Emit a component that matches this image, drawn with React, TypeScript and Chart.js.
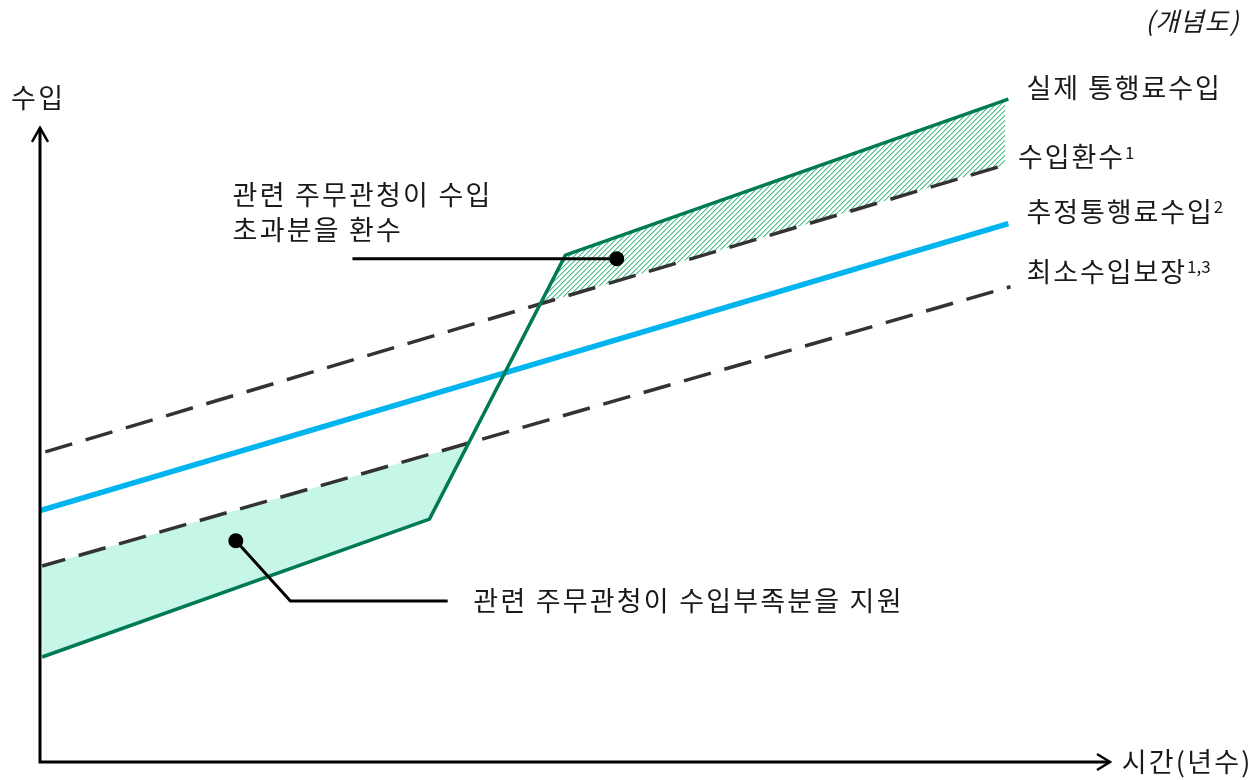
import React, { useEffect, useRef } from "react";
import { Chart, registerables } from "chart.js";

Chart.register(...registerables);

// ---- data (conceptual units: x = time, y = revenue) ----
const actualX = [0.2, 36.4, 49.1, 90.5];
const actualY = [15.0, 34.7, 72.4, 94.7];
const clawbackX = [0.5, 90.2];
const clawbackY = [44.3, 85.3];
const estimatedX = [0, 90.5];
const estimatedY = [35.9, 76.9];
const minimumX = [0.2, 90.7];
const minimumY = [28.0, 67.9];

const seriesLabels = ["실제 통행료수입", "수입환수", "추정통행료수입", "최소수입보장"];
const seriesSup = ["", "1", "2", "1,3"];
const upperNote = ["관련 주무관청이 수입", "초과분을 환수"];
const lowerNote = "관련 주무관청이 수입부족분을 지원";
const xAxisLabel = "시간(년수)";
const yAxisLabel = "수입";
const titleNote = "(개념도)";

const FONT = '"Noto Sans CJK KR", "Noto Sans", sans-serif';
const GREEN = "#007a55";
const TEAL = "#c6f6e7";
const BLUE = "#00b4f0";
const DASH = "#333333";
const TEXT = "#1a1a1a";

const pts = (xs: number[], ys: number[]) => xs.map((x, i) => ({ x, y: ys[i] }));

function makeHatch(): CanvasPattern | string {
  const n = 5;
  const c = document.createElement("canvas");
  c.width = n;
  c.height = n;
  const g = c.getContext("2d");
  if (!g) return "rgba(60,170,120,0.4)";
  g.fillStyle = "#ffffff";
  g.fillRect(0, 0, n, n);
  for (let r = 0; r < n; r++) {
    g.fillStyle = "#4dbf8c";
    g.fillRect((n - 1 - r + n) % n, r, 1, 1);
    g.fillStyle = "#a6dfc4";
    g.fillRect((n - r + n) % n, r, 1, 1);
  }
  const p = g.createPattern(c, "repeat");
  return p || "rgba(60,170,120,0.4)";
}

const decorPlugin = {
  id: "decor",
  afterDraw(chart: any) {
    const { ctx } = chart;
    const xs = chart.scales.x;
    const ys = chart.scales.y;
    const px = (v: number) => xs.getPixelForValue(v);
    const py = (v: number) => ys.getPixelForValue(v);
    ctx.save();

    // axes
    ctx.strokeStyle = "#000";
    ctx.lineWidth = 3;
    ctx.lineCap = "butt";
    ctx.beginPath();
    ctx.moveTo(px(0), py(90.6));
    ctx.lineTo(px(0), py(0));
    ctx.lineTo(px(100), py(0));
    ctx.stroke();
    ctx.lineWidth = 2.5;
    ctx.lineJoin = "miter";
    ctx.beginPath();
    ctx.moveTo(px(0) - 8, py(90.6) + 14);
    ctx.lineTo(px(0), py(90.6));
    ctx.lineTo(px(0) + 8, py(90.6) + 14);
    ctx.stroke();
    ctx.beginPath();
    ctx.moveTo(px(100) - 13, py(0) - 8);
    ctx.lineTo(px(100), py(0));
    ctx.lineTo(px(100) - 13, py(0) + 8);
    ctx.stroke();

    // callouts
    ctx.strokeStyle = "#000";
    ctx.fillStyle = "#000";
    ctx.lineWidth = 3;
    ctx.beginPath();
    ctx.moveTo(px(29.2), py(71.9));
    ctx.lineTo(px(53.9), py(71.9));
    ctx.stroke();
    ctx.beginPath();
    ctx.arc(px(53.9), py(71.9), 7.5, 0, Math.PI * 2);
    ctx.fill();
    ctx.beginPath();
    ctx.moveTo(px(18.3), py(31.6));
    ctx.lineTo(px(23.4), py(23.0));
    ctx.lineTo(px(38.1), py(23.0));
    ctx.stroke();
    ctx.beginPath();
    ctx.arc(px(18.3), py(31.6), 7.5, 0, Math.PI * 2);
    ctx.fill();

    // texts
    ctx.fillStyle = TEXT;
    ctx.textBaseline = "middle";
    ctx.textAlign = "left";
    const big = `27px ${FONT}`;
    const small = `17px ${FONT}`;
    ctx.font = big;
    ctx.letterSpacing = "2.2px";
    ctx.fillText(upperNote[0], px(18.0), py(81.0));
    ctx.fillText(upperNote[1], px(18.0), py(76.0));
    ctx.fillText(lowerNote, px(40.5), py(23.0));
    ctx.fillText(yAxisLabel, px(-2.7), py(94.9));
    ctx.fillText(xAxisLabel, px(101.1), py(0));

    const labelPos = [
      { x: 92.2, y: 96.3 },
      { x: 91.4, y: 86.4 },
      { x: 92.2, y: 78.6 },
      { x: 92.2, y: 70.0 },
    ];
    seriesLabels.forEach((t, i) => {
      ctx.font = big;
      ctx.letterSpacing = "1.9px";
      const X = px(labelPos[i].x);
      const Y = py(labelPos[i].y);
      ctx.fillText(t, X, Y);
      if (seriesSup[i]) {
        const w = ctx.measureText(t).width;
        ctx.font = small;
        ctx.letterSpacing = "0px";
        ctx.fillText(seriesSup[i], X + w, Y - 5);
      }
    });

    ctx.font = `italic 26px ${FONT}`;
    ctx.letterSpacing = "1px";
    ctx.textAlign = "right";
    ctx.fillText(titleNote, px(112.1), py(105.9));
    ctx.restore();
  },
};

export default function App() {
  const ref = useRef<HTMLCanvasElement | null>(null);
  useEffect(() => {
    if (!ref.current) return;
    const hatch = makeHatch();
    const chart = new Chart(ref.current, {
      type: "line",
      data: {
        datasets: [
          {
            label: seriesLabels[0],
            data: pts(actualX, actualY),
            borderColor: GREEN,
            borderWidth: 3.5,
            fill: false,
          },
          {
            label: "hatch",
            data: pts(actualX, actualY),
            borderWidth: 0,
            borderColor: "rgba(0,0,0,0)",
            fill: { target: 2, above: hatch as any, below: "rgba(0,0,0,0)" },
          },
          {
            label: seriesLabels[1],
            data: pts(clawbackX, clawbackY),
            borderColor: DASH,
            borderWidth: 3.5,
            borderDash: [28, 14],
            fill: false,
          },
          {
            label: seriesLabels[2],
            data: pts(estimatedX, estimatedY),
            borderColor: BLUE,
            borderWidth: 5.5,
            fill: false,
          },
          {
            label: seriesLabels[3],
            data: pts(minimumX, minimumY),
            borderColor: DASH,
            borderWidth: 3.5,
            borderDash: [28, 14],
            borderDashOffset: 4,
            fill: false,
          },
          {
            label: "support",
            data: pts(actualX, actualY),
            borderWidth: 0,
            borderColor: "rgba(0,0,0,0)",
            fill: { target: 4, above: "rgba(0,0,0,0)", below: TEAL },
          },
        ],
      },
      options: {
        responsive: false,
        animation: false,
        devicePixelRatio: 1,
        layout: { padding: { left: 40, right: 143, top: 62, bottom: 18 } },
        elements: { point: { radius: 0, hoverRadius: 0 }, line: { tension: 0 } },
        scales: {
          x: { type: "linear", min: 0, max: 100, display: false },
          y: { type: "linear", min: 0, max: 100, display: false },
        },
        plugins: {
          legend: { display: false },
          tooltip: { enabled: false },
          filler: { drawTime: "beforeDatasetsDraw", propagate: false },
        },
      },
      plugins: [decorPlugin],
    });
    return () => chart.destroy();
  }, []);
  return (
    <div style={{ position: "absolute", left: 0, top: 0, width: 1253, height: 780, background: "#fff" }}>
      <canvas ref={ref} width={1253} height={780} style={{ display: "block" }} />
    </div>
  );
}
